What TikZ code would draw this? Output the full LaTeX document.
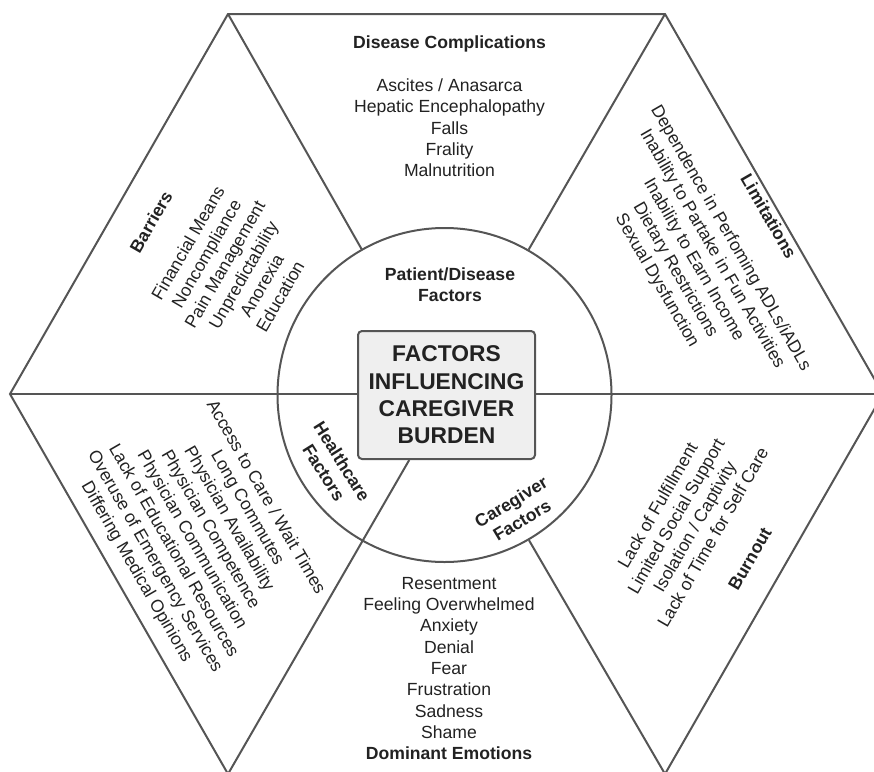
\documentclass[tikz,border=0pt]{standalone}
\usepackage{fontspec}
\setmainfont{Liberation Sans}
\definecolor{edgec}{HTML}{555555}
\definecolor{ink}{HTML}{222222}
\definecolor{boxfill}{HTML}{EFEFEF}
\begin{document}
\begin{tikzpicture}[x=1pt,y=-1pt,
  line width=2pt,
  edge/.style={draw=edgec, line width=2pt},
  txt/.style={inner sep=0pt, align=center, text=ink, font=\fontsize{17.6}{21.3}\selectfont},
  title/.style={inner sep=0pt, align=center, text=ink, font=\fontsize{17.6}{21.3}\selectfont\bfseries},
  centerbox/.style={draw=edgec, line width=2pt, fill=boxfill, rounded corners=4pt,
     minimum width=177pt, minimum height=128pt, inner sep=0pt, align=center, text=ink,
     font=\fontsize{22.8}{27.3}\selectfont\bfseries},
  ring/.style={draw=edgec, line width=2pt, circle, minimum size=334pt, inner sep=0pt}
]
\useasboundingbox (0,0) rectangle (874,771);

% hexagon vertices
\coordinate (vL)  at (10,394);
\coordinate (vTL) at (228,14);
\coordinate (vTR) at (665,14);
\coordinate (vR)  at (883,394);
\coordinate (vBR) at (665,774);
\coordinate (vBL) at (228,774);

\draw[edge] (vL) -- (vTL) -- (vTR) -- (vR) -- (vBR) -- (vBL) -- cycle;

% central ring and box
\node[ring] (ring) at (444.5,395) {};
\node[centerbox] (core) at (446.5,395) {FACTORS\\INFLUENCING\\CAREGIVER\\BURDEN};

% spokes
\draw[edge] (vTL) -- (ring);
\draw[edge] (vTR) -- (ring);
\draw[edge] (vBR) -- (ring);
\draw[edge] (vBL) -- (core);
\draw[edge] (vL) -- (core.west |- vL);
\draw[edge] (core.east |- vR) -- (vR);

% texts
\node[txt] (dc) at (449.5,106.5) {\textbf{Disease Complications}\\[21.3pt]Ascites / Anasarca\\Hepatic Encephalopathy\\Falls\\Frality\\Malnutrition};

\node[txt, rotate=60] (bar) at (215.5,259) {\textbf{Barriers}\\[21.3pt]Financial Means\\Noncompliance\\Pain Management\\Unpredictability\\Anorexia\\Education};

\node[txt, rotate=-60] (lim) at (712,249) {\textbf{Limitations}\\[21.3pt]Dependence in Perfoming ADLs/iADLs\\Inability to Partake in Fun Activities\\Inability to Earn Income\\Dietary Restrictions\\Sexual Dysfunction};

\node[txt, rotate=-60] (hc) at (200.8,535) {Access to Care / Wait Times\\Long Commutes\\Physician Availability\\Physician Competence\\Physician Communication\\Lack of Educational Resources\\Overuse of Emergency Services\\Differing Medical Opinions};

\node[txt, rotate=60] (bo) at (703.5,532) {Lack of Fulfillment\\Limited Social Support\\Isolation / Captivity\\Lack of Time for Self Care\\[21.3pt]\textbf{Burnout}};

\node[txt] (de) at (449,668.5) {Resentment\\Feeling Overwhelmed\\Anxiety\\Denial\\Fear\\Frustration\\Sadness\\Shame\\\textbf{Dominant Emotions}};

\node[title] (pdf) at (450,284.5) {Patient/Disease\\Factors};
\node[title, rotate=-58] (hcf) at (333,467) {Healthcare\\Factors};
\node[title, rotate=31] (cgf) at (516.5,511) {Caregiver\\Factors};
\end{tikzpicture}
\end{document}
